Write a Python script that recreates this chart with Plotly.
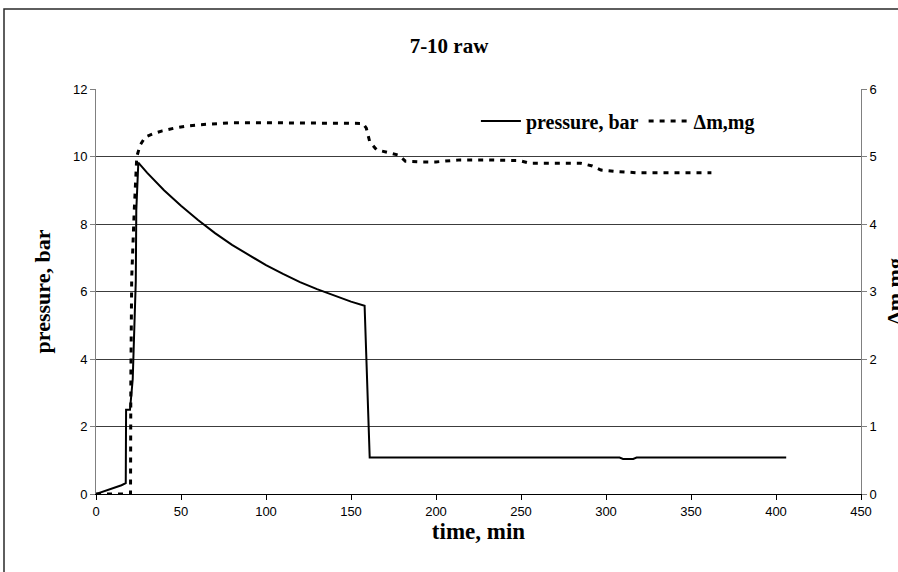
import plotly.graph_objects as go

# Pressure trace (left axis)
time_p = [0, 5, 10, 15, 17.5, 17.7, 20.0, 21.6, 23.4, 23.7, 24.9, 30, 40, 50, 60,
          70, 80, 90, 100, 110, 120, 130, 140, 150, 158, 161, 250, 308, 310, 316,
          318, 406]
pressure = [0, 0.08, 0.17, 0.26, 0.32, 2.5, 2.5, 3.4, 6.3, 8.4, 9.82, 9.52, 9.0, 8.54, 8.12,
            7.73, 7.38, 7.07, 6.78, 6.52, 6.28, 6.07, 5.88, 5.7, 5.58, 1.08, 1.08, 1.08, 1.04, 1.04,
            1.08, 1.08]

# Mass change trace (right axis)
time_m = [0, 20.3, 20.5, 21.0, 22.5, 24.0, 26, 29, 34, 39, 46, 53, 61, 70, 79,
          100, 120, 140, 153, 157, 159, 161, 165, 171, 178, 182, 190, 200, 214, 230,
          240, 249, 255, 270, 285, 292, 297, 305, 318, 340, 362]
mass = [0, 0, 1.7, 3.2, 4.2, 5.0, 5.17, 5.29, 5.34, 5.38, 5.42, 5.45, 5.47, 5.49, 5.5,
        5.5, 5.5, 5.5, 5.5, 5.49, 5.42, 5.22, 5.1, 5.06, 5.02, 4.93, 4.92, 4.92, 4.95, 4.95,
        4.95, 4.94, 4.9, 4.9, 4.9, 4.86, 4.8, 4.78, 4.76, 4.76, 4.76]

x_ticks = [0, 50, 100, 150, 200, 250, 300, 350, 400, 450]
p_ticks = [0, 2, 4, 6, 8, 10, 12]
m_ticks = [0, 1, 2, 3, 4, 5, 6]

SERIF = "Liberation Serif, Times New Roman, serif"
SANS = "Liberation Sans, Arial, sans-serif"

fig = go.Figure()
fig.add_trace(go.Scatter(
    x=time_p, y=pressure, mode="lines", name="<b>pressure, bar</b>",
    line=dict(color="black", width=2), yaxis="y"))
fig.add_trace(go.Scatter(
    x=time_m, y=mass, mode="lines", name="<b>\u0394m,mg</b>",
    line=dict(color="black", width=3, dash="5px,6px"), yaxis="y2"))

fig.update_layout(
    width=898, height=572,
    margin=dict(l=96, r=37, t=89, b=78),
    paper_bgcolor="white", plot_bgcolor="white",
    title=dict(text="<b>7-10 raw</b>", x=0.5, xref="container", xanchor="center",
               y=1 - 46 / 572, yref="container", yanchor="middle",
               font=dict(family=SERIF, size=21, color="black")),
    xaxis=dict(range=[0, 450], tickvals=x_ticks, showgrid=False, zeroline=False,
               showline=True, linecolor="black", linewidth=1,
               ticks="outside", ticklen=5, tickcolor="black",
               tickfont=dict(family=SANS, size=13, color="black"),
               title=dict(text="<b>time, min</b>", standoff=4,
                          font=dict(family=SERIF, size=23, color="black"))),
    yaxis=dict(range=[0, 12], tickvals=p_ticks, showgrid=True, gridcolor="#3c3c3c",
               gridwidth=1, zeroline=False, showline=True, linecolor="#808080",
               linewidth=1, ticks="outside", ticklen=5, tickcolor="#808080",
               tickfont=dict(family=SANS, size=13, color="black"),
               title=dict(text="<b>pressure, bar</b>", standoff=16,
                          font=dict(family=SERIF, size=22, color="black"))),
    yaxis2=dict(range=[0, 6], tickvals=m_ticks, overlaying="y", side="right",
                showgrid=False, zeroline=False, showline=True, linecolor="#808080",
                linewidth=1, ticks="outside", ticklen=5, tickcolor="#808080",
                tickfont=dict(family=SANS, size=13, color="black")),
    legend=dict(orientation="h", x=0.4966, xanchor="left", y=0.921, yanchor="middle",
                bgcolor="rgba(0,0,0,0)", font=dict(family=SERIF, size=20, color="black"),
                itemwidth=40, tracegroupgap=0),
    showlegend=True,
    shapes=[dict(type="rect", xref="paper", yref="paper",
                 x0=(4 - 96) / 765, x1=1.2, y0=-0.3, y1=(494 - 9) / 405,
                 line=dict(color="#2a2a2a", width=1.5), fillcolor="rgba(0,0,0,0)",
                 layer="below")],
    annotations=[dict(text="<b>\u0394m,mg</b>", textangle=-90, xref="paper", yref="paper",
                      x=(880 - 96) / 765, xanchor="left", y=0.5, yanchor="middle",
                      showarrow=False, font=dict(family=SERIF, size=22, color="black"))],
)

fig.write_html("out.html")
